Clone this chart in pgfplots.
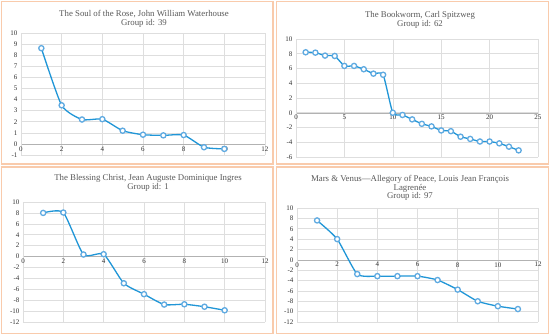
\documentclass[border=0pt]{standalone}
\usepackage{pgfplots}
\pgfplotsset{compat=1.18}
\usepackage{fontspec}
\setmainfont{Liberation Serif}
\definecolor{frameor}{RGB}{249,203,172}
\definecolor{lineblue}{RGB}{32,150,215}
\definecolor{markblue}{RGB}{95,170,225}
\definecolor{gridgr}{RGB}{222,222,222}
\definecolor{titlegr}{RGB}{89,89,89}
\pgfplotsset{
  panel/.style={
    anchor=south west, scale only axis,
    axis x line=middle, axis y line=left,
    axis line style={-, draw=gridgr},
    x axis line style={draw=black!30},
    grid=major, major grid style={gridgr, line width=0.5pt},
    major tick length=0pt,
    hide obscured x ticks=false, hide obscured y ticks=false,
    /pgf/number format/assume math mode=true,
    tick label style={font=\fontsize{7}{8}\selectfont, text=black!80},
    xticklabel style={yshift=1pt},
    clip=false,
  },
  ser/.style={smooth, tension=0.35, line width=1.3pt, color=lineblue,
    mark=*, mark size=2.6pt,
    mark options={fill=white, draw=markblue, line width=1.3pt}},
}
\begin{document}
\begin{tikzpicture}[x=1pt,y=1pt]
\fill[white] (0,0) rectangle (550,335);
% frames
\draw[frameor, line width=1.5pt] (1.5,171) rectangle (273,333.5);
\draw[frameor, line width=1.5pt] (276.5,171) rectangle (548.5,333.5);
\draw[frameor, line width=1.5pt] (1.5,1.5) rectangle (273,168);
\draw[frameor, line width=1.5pt] (276.5,1.5) rectangle (548.5,168);
% titles
\node[text=titlegr, font=\fontsize{8.8}{9}\selectfont, align=center] at (144,316.5)
  {The Soul of the Rose, John William Waterhouse\\Group id: 39};
\node[text=titlegr, font=\fontsize{8.8}{9}\selectfont, align=center] at (420,315)
  {The Bookworm, Carl Spitzweg\\Group id: 62};
\node[text=titlegr, font=\fontsize{8.8}{9}\selectfont, align=center] at (148,152)
  {The Blessing Christ, Jean Auguste Dominique Ingres\\Group id: 1};
\node[text=titlegr, font=\fontsize{8.8}{8.3}\selectfont, align=center] at (410,147)
  {Mars \& Venus—Allegory of Peace, Louis Jean François\\Lagrenée\\Group id: 97};
% panel 1
\begin{axis}[panel, at={(21pt,180pt)}, width=244pt, height=122pt,
  xmin=0, xmax=12, ymin=-1, ymax=10, xtick={0,2,...,12}, ytick={-1,0,...,10}]
\addplot[ser] coordinates {(1,8.63) (2,3.48) (3,2.2) (4,2.23) (5,1.19) (6,0.83) (7,0.77) (8,0.8) (9,-0.3) (10,-0.45)};
\end{axis}
% panel 2
\begin{axis}[panel, at={(296pt,178pt)}, width=242pt, height=118pt,
  xmin=0, xmax=25, ymin=-6, ymax=10, xtick={0,5,...,25}, ytick={-6,-4,...,10}]
\addplot[ser] coordinates {(1,8.2) (2,8.15) (3,7.75) (4,7.7) (5,6.35) (6,6.35) (7,5.9) (8,5.3) (9,5.15) (10,0) (11,-0.3) (12,-0.9) (13,-1.5) (14,-1.85) (15,-2.4) (16,-2.5) (17,-3.25) (18,-3.55) (19,-3.9) (20,-3.9) (21,-4.15) (22,-4.6) (23,-5.1)};
\end{axis}
% panel 3
\begin{axis}[panel, at={(23pt,13pt)}, width=242pt, height=120pt,
  xmin=0, xmax=12, ymin=-12, ymax=10, xtick={0,2,...,12}, ytick={-12,-10,...,10}]
\addplot[ser] coordinates {(1,8.0) (2,8.07) (3,0.37) (4,0.43) (5,-4.9) (6,-6.9) (7,-8.8) (8,-8.75) (9,-9.2) (10,-9.85)};
\end{axis}
% panel 4
\begin{axis}[panel, at={(297pt,13pt)}, width=241pt, height=114pt,
  xmin=0, xmax=12, ymin=-12, ymax=10, xtick={0,2,...,12}, ytick={-12,-10,...,10}]
\addplot[ser] coordinates {(1,7.6) (2,4.0) (3,-2.75) (4,-3.15) (5,-3.15) (6,-3.15) (7,-3.9) (8,-5.75) (9,-8.0) (10,-8.95) (11,-9.5)};
\end{axis}
\end{tikzpicture}
\end{document}
